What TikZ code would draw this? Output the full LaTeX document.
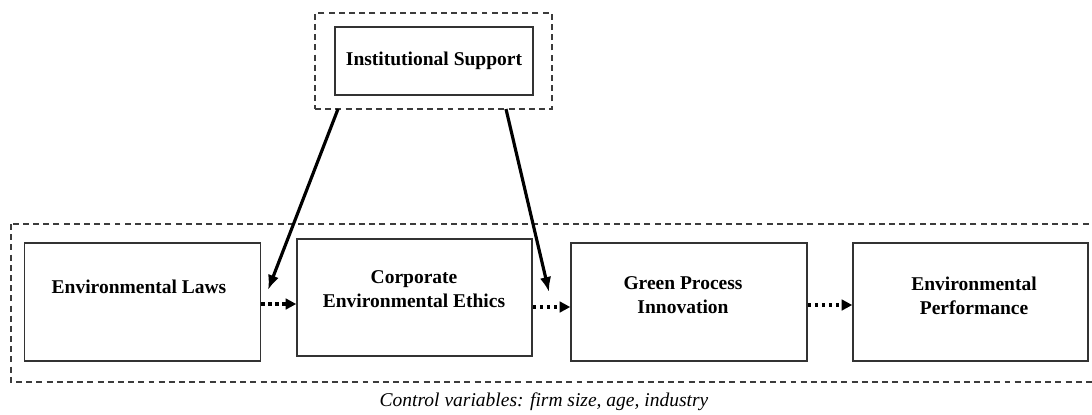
\documentclass[tikz,border=0pt]{standalone}
\usepackage{fontspec}
\setmainfont{Liberation Serif}
\usetikzlibrary{positioning,arrows.meta}
\definecolor{frame}{HTML}{3C3C3C}
\definecolor{edge}{HTML}{333333}

\begin{document}
\begin{tikzpicture}[x=0.02cm,y=-0.02cm,
  box/.style={draw=edge,line width=0.9pt,minimum width=4.72cm,minimum height=2.36cm,inner sep=0pt},
  lbl/.style={font=\fontsize{11.1}{13.6}\selectfont\bfseries,align=center},
  group/.style={draw=frame,line width=0.8pt,dash pattern=on 3.4pt off 2.4pt},
  effect/.style={line width=1.8pt,-{Latex[length=8.5pt,width=6.5pt]}},
  link/.style={line width=2pt,dash pattern=on 1.9pt off 2.1pt,-{Triangle[length=6pt,width=6pt]}}]
\clip (0,0) rectangle (1092,414);
% moderator on top
\node[group,minimum width=4.74cm,minimum height=1.92cm] (modframe) at (433.5,61) {};
\node[box,lbl,minimum width=3.96cm,minimum height=1.36cm] (inst) at (434,61) {Institutional Support};
% main chain
\draw[group] (11,224) rectangle (1100,382);
\node[box] (law) at (142.5,302) {};
\node[box,minimum width=4.7cm,minimum height=2.34cm] (ethics) at (414.5,297.5) {};
\node[box] (green) at (689,302) {};
\node[box,minimum width=4.7cm] (perf) at (970.5,302) {};
\node[lbl] at (139,287) {Environmental Laws};
\node[lbl] at (414,289.5) {Corporate\\Environmental Ethics};
\node[lbl] at (683,295) {Green Process\\Innovation};
\node[lbl] at (974,296) {Environmental\\Performance};
\draw[link] (law.east |- 0,304) -- (ethics.west |- 0,304);
\draw[link] (ethics.east |- 0,307) -- (green.west |- 0,307);
\draw[link] (green.east |- 0,305) -- (perf.west |- 0,305);
% moderating paths
\coordinate (s1) at (338,109);
\coordinate (t1) at (268,290);
\coordinate (s2) at (506,109);
\coordinate (t2) at (549,292);
\draw[effect] (s1) -- (t1);
\draw[effect] (s2) -- (t2);
\node[font=\fontsize{11.1}{13.6}\selectfont\itshape] (note) at (544,402) {Control variables: firm size, age, industry};
\end{tikzpicture}
\end{document}
